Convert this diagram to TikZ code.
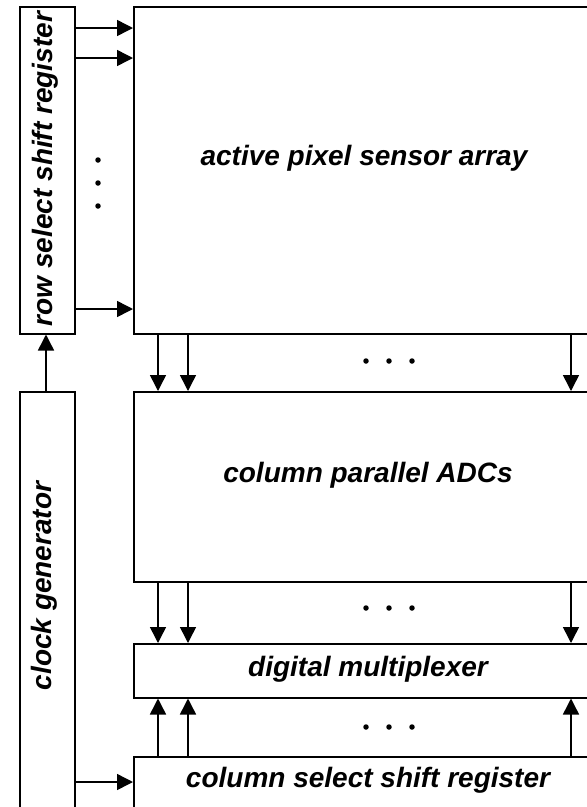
\documentclass[tikz,border=0pt]{standalone}
\usepackage{fontspec}
\setmainfont{Liberation Sans}
\usetikzlibrary{arrows.meta,calc}
\begin{document}
\begin{tikzpicture}[x=1pt,y=-1pt,
  box/.style={draw=black,line width=1.5pt,rectangle,anchor=north west,inner sep=0pt},
  lbl/.style={font=\fontsize{28}{32}\selectfont\bfseries\itshape,inner sep=0pt},
  arr/.style={line width=1.5pt,-{Triangle[length=16pt,width=16pt]}},
  dotn/.style={circle,fill=black,inner sep=0pt,minimum size=5.5pt}]
\useasboundingbox (0,0) rectangle (587,807);
\clip (0,0) rectangle (587,807);
\fill[white] (0,0) rectangle (587,807);
% boxes
\node[box,minimum width=55pt,minimum height=327pt] (rowsel) at (19,6) {};
\node[box,minimum width=467pt,minimum height=327pt] (aps) at (133,6) {};
\node[box,minimum width=467pt,minimum height=190pt] (adc) at (133,391) {};
\node[box,minimum width=467pt,minimum height=54pt] (mux) at (133,643) {};
\node[box,minimum width=467pt,minimum height=80pt] (colsel) at (133,756) {};
\node[box,minimum width=55pt,minimum height=440pt] (clk) at (19,391) {};
% labels
\node[lbl] (tapsl) at (364,158) {active pixel sensor array};
\node[lbl] (tadc) at (368,475) {column parallel ADCs};
\node[lbl] (tmux) at (368,669) {digital multiplexer};
\node[lbl] (tcol) at (368,780) {column select shift register};
\node[lbl,rotate=90] (trow) at (45,169) {row select shift register};
\node[lbl,rotate=90] (tclk) at (44,586) {clock generator};
% row select arrows
\draw[arr] (rowsel.east |- 0,28) -- (aps.west |- 0,28);
\draw[arr] (rowsel.east |- 0,58) -- (aps.west |- 0,58);
\draw[arr] (rowsel.east |- 0,309) -- (aps.west |- 0,309);
\node[dotn] (rd1) at (98,160) {};
\node[dotn] (rd2) at (98,183) {};
\node[dotn] (rd3) at (98,206) {};
% clock arrows
\draw[arr] (clk.north -| 46,0) -- (rowsel.south -| 46,0);
\draw[arr] (clk.east |- 0,782) -- (colsel.west |- 0,782);
% column arrows
\foreach \x in {158,188,571} {
  \draw[arr] (aps.south -| \x,0) -- (adc.north -| \x,0);
  \draw[arr] (adc.south -| \x,0) -- (mux.north -| \x,0);
  \draw[arr] (colsel.north -| \x,0) -- (mux.south -| \x,0);
}
\foreach \y/\n in {361/a,608/b,727/c} {
  \node[dotn] (\n1) at (366,\y) {};
  \node[dotn] (\n2) at (389,\y) {};
  \node[dotn] (\n3) at (412,\y) {};
}
\end{tikzpicture}
\end{document}
